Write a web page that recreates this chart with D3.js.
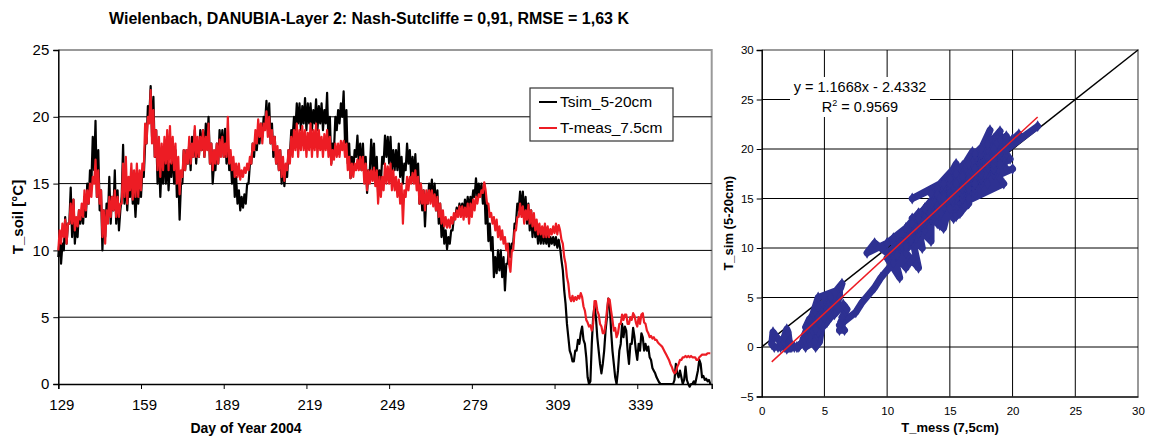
<!DOCTYPE html>
<html>
<head>
<meta charset="utf-8">
<script src="https://cdn.jsdelivr.net/npm/d3@7"></script>
<style>
  body { margin: 0; background: #fff; }
  svg { display: block; }
  text { font-family: Arial, 'Liberation Sans', sans-serif; fill: #000; }
</style>
</head>
<body>
<div id="chart"></div>
<script>
// half-day values, first value = day 129
const firstDay = 129;
const stepDays = 0.5;

const simT = [
  9.5,11, 9,10.5, 10,12.5, 10.5,12, 12,14.7, 11,13.8, 10.5,12, 11,13, 12,13, 12,14,
  12.5,15, 13.5,16, 15,18.5, 16,19.7, 14,17.5, 13,14.5, 10,13, 11,13.5, 12.5,15.5, 12,14,
  13,16, 12,14.5, 11.5,13, 14,17.9, 13.5,15.5, 13,15, 14,16, 13.5,14.5, 12.5,14.5, 13.5,15,
  14,16, 15.5,18, 18,20.8, 20,22.3, 18.5,21.5, 17,19, 15,17.5, 14,16.5, 15,17.5, 15,17,
  14.5,16.5, 15.5,18, 15,17.5, 14,16, 12.3,15, 15,17.5, 16,17.5, 16.5,18, 16,18.5, 17,19,
  16.5,18, 17,19, 17.5,19, 17,19.5, 18,20, 16.5,18, 15,16.5, 16,18, 16.5,19, 17.5,19,
  17,19.1, 16.5,18, 16,17, 15,16.5, 14,15.5, 13.5,14.5, 13,14, 13.2,14.2, 13.5,15, 15,16.5,
  16.5,18, 17,18.5, 17.5,19, 18,19.5, 18.5,20, 19.5,21.2, 19,21, 18,19.5, 17,18.5, 16.5,17.5,
  16,17.5, 15,16.5, 14.8,16, 15.5,17.5, 17,19, 18.5,20, 19,21, 19.5,21, 19,20.8, 19.5,21.4,
  19,21, 19.5,21, 19,20.5, 19.5,21.3, 19,20.8, 19.5,21, 19,20.5, 19.5,21.8, 18,20, 16.5,18,
  17.5,20, 19,20.5, 19.5,21, 20,21.9, 18,20.5, 16.5,18, 15.4,17, 16,17.5, 17,18.6, 16.5,18,
  16,18, 15.5,17, 14.3,16, 16,18.3, 16,18, 15,17, 14.3,16, 15,17, 16.5,18.6, 17,18.5,
  16.5,18.5, 16,17.5, 16,17.5, 16,18, 15.5,17, 15,16.5, 16,18, 16.5,17.5, 15.5,17, 15.5,17.2,
  15,16.5, 13.5,15, 13,14.5, 11.8,14, 13.5,15, 14,15.3, 13.5,15, 13,14.5, 12,13.5, 11,12.5,
  10.5,11.5, 10.1,11, 10.5,11.5, 11.5,12.5, 12.5,13.2, 12.7,13.5, 12.8,13.5, 12.8,13.8, 13,14, 13,14,
  13.5,14.5, 14,15.4, 14,15, 14.2,15, 13.5,15, 12,13.5, 10.7,12, 10,11, 8,9.5, 8.3,10,
  8.5,10, 8,9.5, 7,9, 9,10.5, 9.5,10.5, 10.5,12, 12,13.5, 13,14.4, 13,14.4, 12.5,14,
  12,13.5, 11.5,13, 11,12.5, 11,12, 10.5,11.5, 10.5,11.5, 10.5,11.3, 10.5,11.2, 10.3,11, 10.5,11,
  10.4,11, 10.2,10.8, 10.2,9.3, 8.5,7, 6,4.5, 3.5,2.5, 2.2,1.7, 1.7,2.5, 2.5,3.3, 3,3.8,
  4.3,3.3, 3,2, 0.5,0, 0.2,3, 5,5.8, 5,3.5, 2.5,1.5, 0.8,1.5, 2.5,4, 5,6.4,
  6,4, 2.5,1.5, 0.5,0, 1,2.5, 3,4.5, 3.5,4.3, 4,2.5, 1.5,3, 3,4.2, 3.5,2.5,
  1.8,3, 2.5,3.8, 3.5,2.5, 3,2.5, 2.8,2, 1.8,1.2, 1,0.8, 0.5,0.3, 0.1,0, 0,0,
  0,0, 0,0, 0,0, 0,0.3, 1.5,0.8, 0.5,1, 0.5,0, 0.3,1.3, 0.3,0, -0.2,0,
  0,0.2, 0,0.5, 1,1.8, 1.5,0.5, 0.6,0.3, 0.4,0.2, 0.3,0
];

const measT = [
  10,11.5, 10.5,12, 11,12.3, 10.5,12, 12,13.5, 12,13.8, 11.5,12.5, 11.8,13, 12.3,13.5, 12.5,14.5,
  13,14.5, 13.5,15, 14,15.5, 15,16.8, 14,16, 13.5,14.5, 11,13, 10.5,13, 12,14, 12.5,14,
  13,14.5, 12.5,14, 12.5,13.5, 13.5,16.5, 14,17, 13.5,15.5, 14.5,16.5, 13.8,16, 14,16.5, 14,16,
  14.5,16.5, 16,19.5, 18,20, 19.5,22, 18,20.5, 17,19, 16,18.5, 15.5,18, 16,18.5, 16.5,19,
  16,19.3, 16.5,18.5, 16,18, 15,17, 14.2,16, 15.5,17.5, 16,17.5, 16.5,18.5, 16.5,18, 17,19.3,
  17,18.5, 17,18.5, 17.5,19, 17,18.5, 17.5,19.5, 16.5,18, 16,17.5, 16.5,18, 16.5,18.3, 17,18.5,
  17,18, 17,20, 16.5,17.5, 16,17, 15.5,16.5, 15.5,16.5, 15.3,16, 15.5,16.2, 15.8,16.5, 16,17,
  16.5,18, 17.5,19, 18,19.8, 18.5,19.5, 18,19.5, 19,20.4, 18.5,20, 18,19, 17.5,18.5, 16.5,17.8,
  16,17.5, 15.5,17, 15.2,16.5, 16,17.5, 16.5,18.5, 17,19, 17.5,19.5, 17,19, 17.5,19.3, 17.5,19,
  17,18.8, 17.5,19.5, 17,19, 17.5,19.5, 17,19, 17.5,18.5, 17,18.7, 17.5,19, 17,18.5, 16.4,17.5,
  16.8,18, 17,18, 17,18.2, 17.5,18.2, 17,18, 16,17, 15.4,16.5, 15.5,16.5, 16,16.8, 16,17,
  16,17, 15,16.5, 14.5,16, 15,16, 15.2,16.2, 14.8,16, 13.5,15.5, 14,15.5, 14.5,16.5, 15,16.3,
  15,16.5, 14.5,16, 14.5,15.5, 14,15.3, 13.5,15, 12,14.5, 14,15.5, 14.5,15.5, 15,15.8, 15,16,
  14.5,15.5, 13.5,15, 13.5,14.5, 13,14.5, 13.5,14.5, 13.5,14.5, 13.3,14.2, 13,14, 12.5,13.5, 12,13,
  11.8,12.5, 11.7,12.3, 11.7,12.5, 12,12.8, 12.3,13, 12.5,13.3, 12.5,13.3, 12.3,13.2, 12.5,13.5, 12,13.5,
  12.5,13.8, 13,14, 13.5,14.2, 14,14.5, 14.3,15.1, 14.5,13.5, 13.5,12.5, 12.8,12, 12.5,11.5, 12.3,11,
  11.8,10.8, 11.5,10.5, 11,10, 10.5,9, 8.4,10, 10,11.5, 11.5,12.5, 12.5,13.5, 12.5,13.3, 12,13,
  12.3,13.4, 12,13, 11.8,12.8, 11.5,12.3, 11.2,12, 11.2,11.8, 11,12, 11,11.8, 11,11.6, 11.2,11.8,
  11.3,12, 11.2,11.9, 11.5,10.8, 10.5,9.5, 9,8, 7.5,6.5, 6.2,6.6, 6.2,6.5, 6.3,6.6, 6.4,6.8,
  6.5,5.8, 5.5,4.8, 4.6,4.3, 4.4,4, 4.5,6.2, 6.2,5.5, 5.2,4.5, 4.3,3.8, 3.8,4.5, 5.5,6.4,
  6.3,5.5, 4.8,4, 4.2,3.5, 3.8,4.5, 4.5,5.2, 4.8,5.2, 5.2,4.5, 4.5,5, 4.8,5.3, 5.1,4.6,
  4.3,5, 4.5,5.2, 5.3,4.6, 4.5,4, 3.8,3.5, 3.6,3.4, 3.5,3.3, 3.3,3.1, 3,2.9, 2.8,2.6,
  2.4,2.2, 2,1.8, 1.5,1.3, 1,0.8, 0.9,1.3, 1.5,1.8, 1.8,2, 2,2.1, 2,2.1, 2,2.1,
  2,2, 2,1.8, 1.8,2, 2.1,2.2, 2.2,2.2, 2.2,2.3, 2.3,2.3
];

const seriesNames = ['Tsim_5-20cm', 'T-meas_7.5cm'];
const seriesColors = ['#000000', '#ed1c24'];
const dayTicks = [129, 159, 189, 219, 249, 279, 309, 339];
const tempTicks = [0, 5, 10, 15, 20, 25];
const scatterXTicks = [0, 5, 10, 15, 20, 25, 30];
const scatterYTicks = [-5, 0, 5, 10, 15, 20, 25, 30];
const trendSlope = 1.1668;
const trendIntercept = -2.4332;
const trendR2 = '0.9569';

const W = 1150, H = 436;
const svg = d3.select('#chart').append('svg').attr('width', W).attr('height', H);

// ---------- left: time series ----------
const x = d3.scaleLinear().domain([129, 366]).range([58.3, 711.7]);
const y = d3.scaleLinear().domain([0, 25]).range([384, 50]);

const left = svg.append('g');

left.append('text')
  .attr('x', 369).attr('y', 24)
  .attr('text-anchor', 'middle')
  .attr('font-size', 16).attr('font-weight', 'bold')
  .text('Wielenbach, DANUBIA-Layer 2: Nash-Sutcliffe = 0,91, RMSE = 1,63 K');

// plot area border (grey top / right)
left.append('path')
  .attr('d', `M${x.range()[0]},${y(25)}H${x.range()[1]}V${y(0)}`)
  .attr('fill', 'none').attr('stroke', '#999').attr('stroke-width', 2);

left.append('g').selectAll('line')
  .data(tempTicks.filter(t => t > 0 && t < 25))
  .join('line')
  .attr('x1', x.range()[0]).attr('x2', x.range()[1])
  .attr('y1', d => y(d)).attr('y2', d => y(d))
  .attr('stroke', '#000').attr('stroke-width', 1);

const yAxis = left.append('g')
  .attr('transform', `translate(${x.range()[0]},0)`)
  .call(d3.axisLeft(y).tickValues(tempTicks).tickSize(5).tickPadding(4));
yAxis.select('.domain').attr('stroke', '#000').attr('stroke-width', 1.5);
yAxis.selectAll('.tick line').attr('stroke', '#000');
yAxis.selectAll('.tick text').attr('font-size', 15).attr('font-family', null);

const xAxis = left.append('g')
  .attr('transform', `translate(0,${y(0)})`)
  .call(d3.axisBottom(x).tickValues(dayTicks).tickSize(5).tickPadding(10));
xAxis.select('.domain').attr('stroke', '#000').attr('stroke-width', 1.5);
xAxis.selectAll('.tick line').attr('stroke', '#000');
xAxis.selectAll('.tick text').attr('font-size', 15).attr('font-family', null).attr('dx', 3);

left.append('text')
  .attr('x', 246).attr('y', 433)
  .attr('text-anchor', 'middle')
  .attr('font-size', 14).attr('font-weight', 'bold')
  .text('Day of Year 2004');

left.append('text')
  .attr('transform', `translate(23,${(y(0) + y(25)) / 2}) rotate(-90)`)
  .attr('text-anchor', 'middle')
  .attr('font-size', 15).attr('font-weight', 'bold')
  .text('T_soil [°C]');

const line = d3.line()
  .x((d, i) => x(firstDay + i * stepDays))
  .y(d => y(d));

[simT, measT].forEach((series, k) => {
  left.append('path')
    .datum(series)
    .attr('d', line)
    .attr('fill', 'none')
    .attr('stroke', seriesColors[k])
    .attr('stroke-width', 2.2)
    .attr('stroke-linejoin', 'round');
});

// legend
const legend = left.append('g').attr('transform', 'translate(530,88)');
legend.append('rect')
  .attr('width', 143).attr('height', 53)
  .attr('fill', '#fff').attr('stroke', '#333').attr('stroke-width', 1.2);
seriesNames.forEach((name, k) => {
  const row = legend.append('g').attr('transform', `translate(0,${14 + k * 26})`);
  row.append('line')
    .attr('x1', 9).attr('x2', 27)
    .attr('stroke', seriesColors[k]).attr('stroke-width', 2);
  row.append('text')
    .attr('x', 30).attr('dy', '0.35em')
    .attr('font-size', 15.5)
    .text(name);
});

// ---------- right: scatter ----------
const sx = d3.scaleLinear().domain([0, 30]).range([761.7, 1138]);
const sy = d3.scaleLinear().domain([-5, 30]).range([396.5, 50]);

const right = svg.append('g');

right.append('path')
  .attr('d', `M${sx(0)},${sy(30)}H${sx(30)}V${sy(-5)}`)
  .attr('fill', 'none').attr('stroke', '#999').attr('stroke-width', 2);

right.append('g').selectAll('line')
  .data(scatterXTicks.filter(t => t > 0 && t < 30))
  .join('line')
  .attr('x1', d => sx(d)).attr('x2', d => sx(d))
  .attr('y1', sy(30)).attr('y2', sy(-5))
  .attr('stroke', '#000');
right.append('g').selectAll('line')
  .data(scatterYTicks.filter(t => t > -5 && t < 30))
  .join('line')
  .attr('x1', sx(0)).attr('x2', sx(30))
  .attr('y1', d => sy(d)).attr('y2', d => sy(d))
  .attr('stroke', '#000');

const syAxis = right.append('g')
  .attr('transform', `translate(${sx(0)},0)`)
  .call(d3.axisLeft(sy).tickValues(scatterYTicks).tickSize(5).tickPadding(3));
syAxis.select('.domain').attr('stroke', '#000').attr('stroke-width', 1.5);
syAxis.selectAll('.tick line').attr('stroke', '#000');
syAxis.selectAll('.tick text').attr('font-size', 11.5).attr('font-family', null);

const sxAxis = right.append('g')
  .attr('transform', `translate(0,${sy(-5)})`)
  .call(d3.axisBottom(sx).tickValues(scatterXTicks).tickSize(0).tickPadding(10));
sxAxis.select('.domain').attr('stroke', '#000').attr('stroke-width', 1.5);
sxAxis.selectAll('.tick text').attr('font-size', 11.5).attr('font-family', null);

right.append('text')
  .attr('x', 950).attr('y', 432)
  .attr('text-anchor', 'middle')
  .attr('font-size', 13).attr('font-weight', 'bold')
  .text('T_mess (7,5cm)');

right.append('text')
  .attr('transform', `translate(733,${(sy(-5) + sy(30)) / 2}) rotate(-90)`)
  .attr('text-anchor', 'middle')
  .attr('font-size', 13).attr('font-weight', 'bold')
  .text('T_sim (5-20cm)');

// 1:1 line
right.append('line')
  .attr('x1', sx(0)).attr('y1', sy(0))
  .attr('x2', sx(30)).attr('y2', sy(30))
  .attr('stroke', '#000').attr('stroke-width', 1.5);

const pts = simT.map((s, i) => [measT[i], s]);
const blue = '#2e3192';

right.append('path')
  .datum(pts)
  .attr('d', d3.line().x(d => sx(d[0])).y(d => sy(d[1])))
  .attr('fill', 'none').attr('stroke', blue)
  .attr('stroke-width', 7).attr('stroke-linejoin', 'round').attr('stroke-linecap', 'round');

right.append('g').selectAll('path')
  .data(pts)
  .join('path')
  .attr('transform', d => `translate(${sx(d[0])},${sy(d[1])})`)
  .attr('d', d3.symbol(d3.symbolDiamond, 40))
  .attr('fill', blue);

// trend line
const xMin = d3.min(measT), xMax = d3.max(measT);
right.append('line')
  .attr('x1', sx(xMin)).attr('y1', sy(trendSlope * xMin + trendIntercept))
  .attr('x2', sx(xMax)).attr('y2', sy(trendSlope * xMax + trendIntercept))
  .attr('stroke', '#ed1c24').attr('stroke-width', 1.5);

// equation label
const eq = right.append('g').attr('transform', 'translate(860,0)');
eq.append('rect')
  .attr('x', -70).attr('y', 77).attr('width', 140).attr('height', 40)
  .attr('fill', '#fff');
eq.append('text')
  .attr('y', 92).attr('text-anchor', 'middle').attr('font-size', 14.5)
  .text(`y = ${trendSlope}x - ${Math.abs(trendIntercept)}`);
const r2 = eq.append('text')
  .attr('y', 112).attr('text-anchor', 'middle').attr('font-size', 14.5);
r2.append('tspan').text('R');
r2.append('tspan').attr('font-size', 9).attr('dy', -6).text('2');
r2.append('tspan').attr('dy', 6).text(` = ${trendR2}`);
</script>
</body>
</html>
